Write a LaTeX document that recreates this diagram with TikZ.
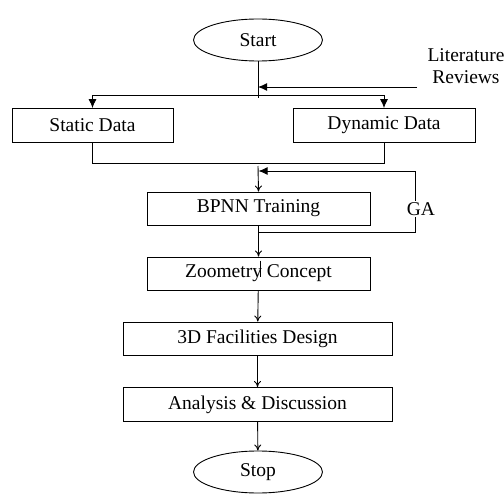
\documentclass[tikz,border=0pt]{standalone}
\usepackage{fontspec}
\setmainfont{Liberation Serif}
\usepackage{tikz}
\usetikzlibrary{shapes.geometric}
\usetikzlibrary{arrows.meta}
\usetikzlibrary{positioning}

\tikzset{
  stepbox/.style={draw, line width=0.9pt, minimum height=34pt, inner sep=0pt},
  endpoint/.style={draw, ellipse, line width=0.9pt, minimum width=129pt, minimum height=42pt, inner sep=0pt},
  flow/.style={line width=0.9pt, -{To[length=6pt,width=7pt]}},
  feed/.style={line width=0.9pt, -{Latex[length=9pt,width=8pt]}},
  plain/.style={line width=0.9pt}
}

\begin{document}
\begin{tikzpicture}[x=1pt, y=-1pt, font=\fontsize{19.5}{22}\selectfont]
    \useasboundingbox (0,0) rectangle (504,495);
    % Ends
    \node[endpoint] (start) at (258,40) {Start};
    \node[endpoint] (stop) at (258,472) {Stop};
    % Data
    \node[stepbox, minimum width=161pt] (static) at (92.5,125.5) {Static Data};
    \node[stepbox, minimum width=182pt] (dynamic) at (384,125.5) {Dynamic Data};
    % Steps
    \node[stepbox, minimum width=223pt, minimum height=33pt] (bpnn) at (258.5,208.5) {BPNN Training};
    \node[stepbox, minimum width=223pt, minimum height=33pt] (zoometry) at (258.5,273.5) {Zoometry Concept};
    \node[stepbox, minimum width=269pt, minimum height=33pt] (design) at (257.5,338.5) {3D Facilities Design};
    \node[stepbox, minimum width=269pt] (analysis) at (257.5,404.5) {Analysis \& Discussion};
    % Literature
    \node[align=center, inner sep=0pt] (lit) at (466,66) {Literature\\Reviews};
    \coordinate (litin) at (417,87);
    \coordinate (split) at (258,95);
    \coordinate (merge) at (258,163);
    \draw[plain] (start.south) -- ++(0,37);
    \draw[feed] (litin) -- (litin -| start.south);
    \draw[feed] (split) -| (static.north);
    \draw[feed] (split) -| (dynamic.north);
    \draw[plain] (static.south) -- (static.south |- merge) -| (dynamic.south);
    \draw[flow] ([yshift=-3pt]merge) -- (bpnn.north);
    % GA loop
    \coordinate (gabot) at (415,232);
    \coordinate (gatop) at (415,171);
    \draw[feed] (bpnn.south |- gabot) -- (gabot) -- (gatop) -- (gatop -| bpnn.north);
    \node[fill=white, inner sep=1pt] (ga) at (421,209) {GA};
    % Flow
    \draw[flow] (bpnn) -- (zoometry);
    \draw[line width=1.6pt] ([xshift=2pt,yshift=-4pt]zoometry.north) -- ++(0,16);
    \draw[flow] (zoometry) -- (design);
    \draw[flow] (design) -- (analysis);
    \draw[flow] (analysis) -- (stop);
  \end{tikzpicture}
\end{document}
